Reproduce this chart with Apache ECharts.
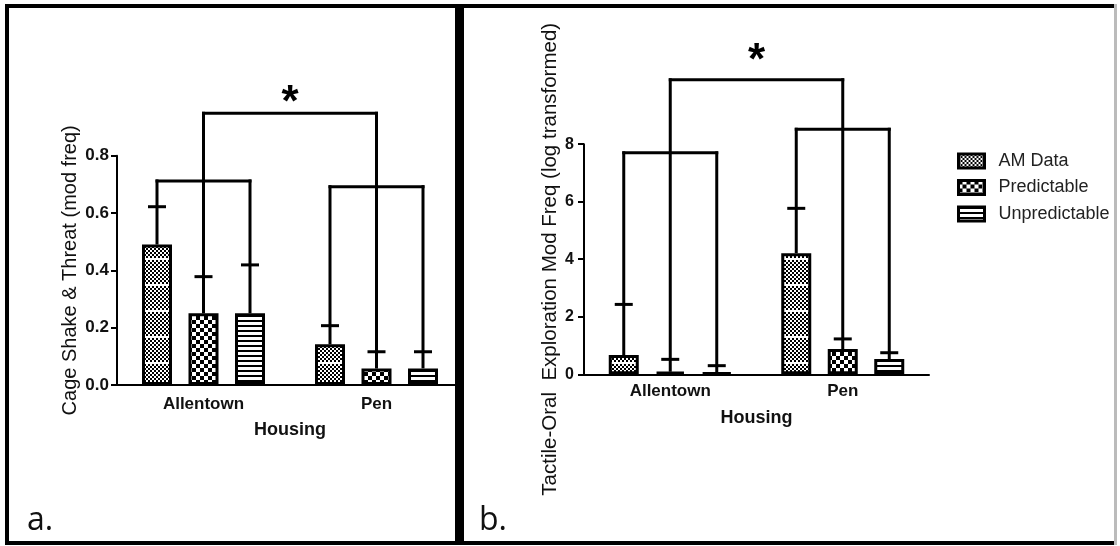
<!DOCTYPE html>
<html>
<head>
<meta charset="utf-8">
<script src="https://cdn.jsdelivr.net/npm/echarts@6/dist/echarts.min.js"></script>
<style>
html,body{margin:0;padding:0;background:#fff;}
#chart{width:1120px;height:546px;}
</style>
</head>
<body>
<div id="chart"></div>
<script>
// ---------- DATA ----------
const categories = ['Allentown', 'Pen'];
const seriesNames = ['AM Data', 'Predictable', 'Unpredictable'];

// Panel a: Cage Shake & Threat (mod freq)
const aAM = [0.49, 0.142];
const aPred = [0.25, 0.058];
const aUnpred = [0.25, 0.058];
const aAMErr = [0.622, 0.207];
const aPredErr = [0.378, 0.116];
const aUnpredErr = [0.419, 0.116];
const aGroupBracket = [0.712, 0.692];
const aTopBracket = 0.948;
const aStar = 1.015;
const aYTicks = [0, 0.2, 0.4, 0.6, 0.8];

// Panel b: Tactile-Oral Exploration Mod Freq (log transformed)
const bAM = [0.67, 4.21];
const bPred = [0.09, 0.88];
const bUnpred = [0.06, 0.53];
const bAMErr = [2.43, 5.77];
const bPredErr = [0.52, 1.23];
const bUnpredErr = [0.30, 0.75];
const bGroupBracket = [7.70, 8.52];
const bTopBracket = 10.24;
const bStar = 11.2;
const bYTicks = [0, 2, 4, 6, 8];

// ---------- STYLE ----------
const BAR_W = 30;
const BAR_GAP = 0.55;
const CAP_HALF = 9;
const LINE_W = 3;
const FONT = 'Arial, "Liberation Sans", sans-serif';

function makeCanvas(w, h, draw) {
  const c = document.createElement('canvas');
  c.width = w; c.height = h;
  const ctx = c.getContext('2d');
  ctx.fillStyle = '#fff'; ctx.fillRect(0, 0, w, h);
  ctx.fillStyle = '#000';
  draw(ctx);
  return c;
}
const patAM = makeCanvas(4, 26, ctx => {
  for (let y = 0; y < 24; y += 2) {
    for (let x = 0; x < 4; x += 2) {
      if (((x + y) / 2) % 2 === 0) ctx.fillRect(x, y, 2, 2);
    }
  }
});
const patPred = makeCanvas(8, 8, ctx => {
  ctx.fillRect(0, 0, 4, 4); ctx.fillRect(4, 4, 4, 4);
});
const patUnpred = makeCanvas(4, 5, ctx => {
  ctx.fillRect(0, 0, 4, 2);
});
const patterns = [patAM, patPred, patUnpred];

function barSeries(gridIdx, name, data, pat) {
  return {
    type: 'bar', name: name, xAxisIndex: gridIdx, yAxisIndex: gridIdx,
    data: data, barWidth: BAR_W, barGap: (BAR_GAP * 100) + '%',
    itemStyle: { color: { image: pat, repeat: 'repeat' }, borderColor: '#000', borderWidth: 3 },
    emphasis: { disabled: true }, z: 2
  };
}

function linesSeries(gridIdx, vals, errs, groupBr, topBr, star) {
  return {
    type: 'custom', xAxisIndex: gridIdx, yAxisIndex: gridIdx, clip: false, z: 5,
    data: categories.map((c, i) => [i]), silent: true,
    renderItem: function (params, api) {
      const ci = api.value(0);
      const cx = api.coord([ci, 0])[0];
      const step = BAR_W * (1 + BAR_GAP);
      const Y = v => api.coord([ci, v])[1];
      const ls = { stroke: '#000', lineWidth: LINE_W };
      const ch = [];
      const xs = [cx - step, cx, cx + step];
      for (let i = 0; i < 3; i++) {
        const v = vals[i][ci], e = errs[i][ci];
        const topLevel = i === 1 ? topBr : groupBr[ci];
        ch.push({ type: 'line', shape: { x1: xs[i], y1: Y(v), x2: xs[i], y2: Y(topLevel) - 1.5 }, style: ls });
        ch.push({ type: 'line', shape: { x1: xs[i] - CAP_HALF, y1: Y(e), x2: xs[i] + CAP_HALF, y2: Y(e) }, style: ls });
      }
      ch.push({ type: 'line', shape: { x1: xs[0] - 1.5, y1: Y(groupBr[ci]), x2: xs[2] + 1.5, y2: Y(groupBr[ci]) }, style: ls });
      if (ci === 0) {
        const x2 = api.coord([1, 0])[0];
        ch.push({ type: 'line', shape: { x1: cx - 1.5, y1: Y(topBr), x2: x2 + 1.5, y2: Y(topBr) }, style: ls });
        ch.push({ type: 'text', style: { text: '*', x: (cx + x2) / 2, y: Y(star) + 10, font: 'bold 44px ' + FONT, fill: '#000', align: 'center', verticalAlign: 'middle' } });
      }
      return { type: 'group', children: ch };
    }
  };
}

const axisLineStyle = { color: '#000', width: 2 };
function xAxisCfg(gridIdx) {
  return {
    type: 'category', gridIndex: gridIdx, data: categories,
    axisLine: { lineStyle: axisLineStyle },
    axisTick: { alignWithLabel: true, length: 5, lineStyle: { color: '#000', width: 2 } },
    axisLabel: { fontFamily: FONT, fontWeight: 'bold', fontSize: 17, color: '#111', margin: gridIdx === 0 ? 11 : 9 },
    name: 'Housing', nameLocation: 'middle', nameGap: gridIdx === 0 ? 36 : 35,
    nameTextStyle: { fontFamily: FONT, fontWeight: 'bold', fontSize: 18, color: '#111' },
    splitLine: { show: false }
  };
}
function yAxisCfg(gridIdx, ticks, name, gap, fmt, nameSize, labelSize) {
  return {
    type: 'value', gridIndex: gridIdx, min: ticks[0], max: ticks[ticks.length - 1],
    interval: ticks[1] - ticks[0],
    axisLine: { show: true, lineStyle: axisLineStyle },
    axisTick: { show: true, length: 6, lineStyle: { color: '#000', width: 2 } },
    axisLabel: { fontFamily: FONT, fontWeight: 'bold', fontSize: labelSize, color: '#111', margin: gridIdx === 0 ? 8 : 10, formatter: fmt },
    splitLine: { show: false },
    name: name, nameLocation: 'middle', nameRotate: 90, nameGap: gap,
    nameTextStyle: { fontFamily: FONT, fontSize: nameSize, color: '#111' }
  };
}

const option = {
  backgroundColor: '#fff',
  animation: false,
  grid: [
    { left: 117, top: 155.7, width: 346, height: 229.3 },
    { left: 584, top: 144.2, width: 345, height: 230.1 }
  ],
  xAxis: [xAxisCfg(0), xAxisCfg(1)],
  yAxis: [
    yAxisCfg(0, aYTicks, 'Cage Shake & Threat (mod freq)', 37, v => v.toFixed(1), 20, 17),
    yAxisCfg(1, bYTicks, 'Tactile-Oral  Exploration Mod Freq (log transformed)', 22, v => String(v), 20.5, 16)
  ],
  legend: {
    data: seriesNames, orient: 'vertical', left: 952, top: 147,
    itemWidth: 26, itemHeight: 14, itemGap: 8.5, icon: 'rect', selectedMode: false,
    itemStyle: { borderColor: '#000', borderWidth: 3 },
    textStyle: { fontFamily: FONT, fontSize: 18, color: '#222', padding: [0, 0, 0, 9] }
  },
  series: [
    barSeries(0, seriesNames[0], aAM, patterns[0]),
    barSeries(0, seriesNames[1], aPred, patterns[1]),
    barSeries(0, seriesNames[2], aUnpred, patterns[2]),
    linesSeries(0, [aAM, aPred, aUnpred], [aAMErr, aPredErr, aUnpredErr], aGroupBracket, aTopBracket, aStar),
    barSeries(1, seriesNames[0], bAM, patterns[0]),
    barSeries(1, seriesNames[1], bPred, patterns[1]),
    barSeries(1, seriesNames[2], bUnpred, patterns[2]),
    linesSeries(1, [bAM, bPred, bUnpred], [bAMErr, bPredErr, bUnpredErr], bGroupBracket, bTopBracket, bStar)
  ],
  graphic: [
    { type: 'rect', z: 100, shape: { x: 5, y: 4, width: 4, height: 541 }, style: { fill: '#000' } },
    { type: 'rect', z: 100, shape: { x: 5, y: 4, width: 1112, height: 4 }, style: { fill: '#000' } },
    { type: 'rect', z: 100, shape: { x: 455, y: 4, width: 9, height: 541 }, style: { fill: '#000' } },
    { type: 'rect', z: 100, shape: { x: 5, y: 541, width: 1112, height: 4 }, style: { fill: '#000' } },
    { type: 'rect', z: 100, shape: { x: 1114, y: 4, width: 3, height: 541 }, style: { fill: '#bbb' } },
    { type: 'text', z: 100, style: { text: 'a.', x: 27, y: 537, font: '32px "Open Sans", ' + FONT, fill: '#111', align: 'left', verticalAlign: 'bottom' } },
    { type: 'text', z: 100, style: { text: 'b.', x: 479, y: 537, font: '32px "Open Sans", ' + FONT, fill: '#111', align: 'left', verticalAlign: 'bottom' } }
  ]
};

const chart = echarts.init(document.getElementById('chart'), null, { renderer: 'canvas' });
chart.setOption(option);
</script>
</body>
</html>
